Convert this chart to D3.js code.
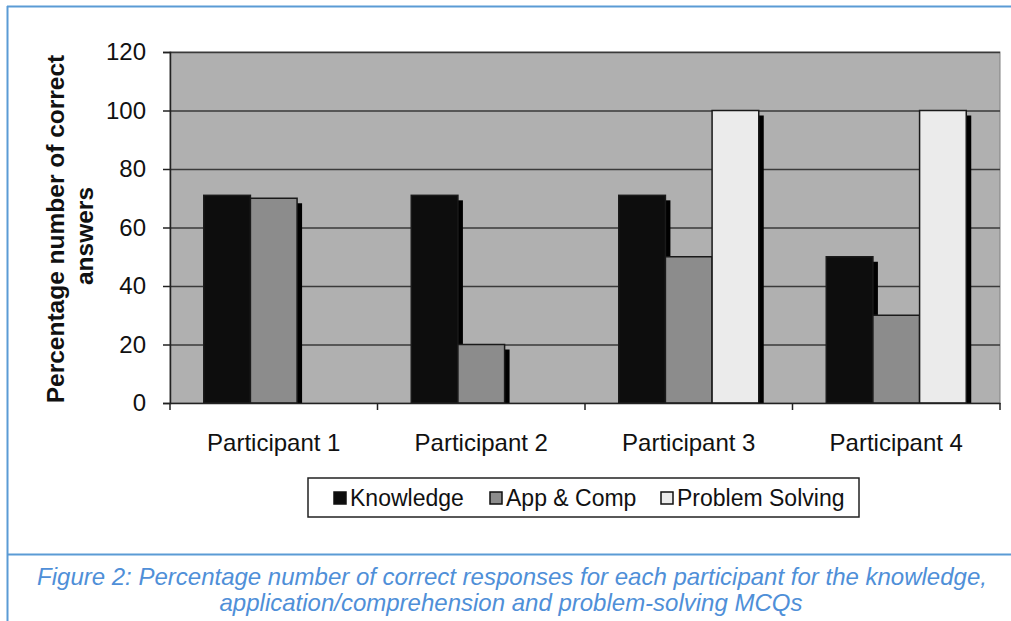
<!DOCTYPE html>
<html>
<head>
<meta charset="utf-8">
<script src="https://cdn.jsdelivr.net/npm/d3@7"></script>
<style>
body { margin: 0; background: #fff; }
svg { display: block; font-family: Arial, "Liberation Sans", sans-serif; }
</style>
</head>
<body>
<svg width="1011" height="621"></svg>
<script>
// chart data
var participants = ["Participant 1", "Participant 2", "Participant 3", "Participant 4"];
var seriesNames = ["Knowledge", "App & Comp", "Problem Solving"];
var knowledge = [71, 71, 71, 50];
var appComp = [70, 20, 50, 30];
var problemSolving = [0, 0, 100, 100];
var yTicks = [0, 20, 40, 60, 80, 100, 120];

var SHADOW = 5;
var fills = ["#0d0d0d", "#8c8c8c", "#ebebeb"];

var svg = d3.select("svg");
var marge = {top: 52, left: 170, right: 1000, bottom: 403};

// blue frame of the figure
svg.append("line").attr("x1", 7).attr("y1", 6.5).attr("x2", 1011).attr("y2", 6.5)
    .attr("stroke", "#5b9bd5").attr("stroke-width", 2);
svg.append("line").attr("x1", 7.5).attr("y1", 6).attr("x2", 7.5).attr("y2", 621)
    .attr("stroke", "#5b9bd5").attr("stroke-width", 2);
svg.append("line").attr("x1", 7).attr("y1", 554.5).attr("x2", 1011).attr("y2", 554.5)
    .attr("stroke", "#5b9bd5").attr("stroke-width", 2);

var x = d3.scaleBand().domain(participants).range([marge.left, marge.right]);
var x1 = d3.scaleBand().domain(d3.range(3)).range([0, 140]);
var y = d3.scaleLinear().domain([0, 120]).range([marge.bottom, marge.top]);

// plot area
svg.append("rect")
    .attr("x", marge.left).attr("y", marge.top)
    .attr("width", marge.right - marge.left).attr("height", marge.bottom - marge.top)
    .attr("fill", "#b0b0b0").attr("stroke", "#808080").attr("stroke-width", 1);

// gridlines
svg.append("g").selectAll("line")
    .data(yTicks.filter(function(d){ return d > 0; }))
    .enter().append("line")
    .attr("x1", marge.left).attr("x2", marge.right)
    .attr("y1", function(d){ return y(d) + 0.5; })
    .attr("y2", function(d){ return y(d) + 0.5; })
    .attr("stroke", "#3a3a3a").attr("stroke-width", 1.5);

// bars
var rows = participants.map(function(p, i){
    return {name: p, values: [knowledge[i], appComp[i], problemSolving[i]]};
});
var groups = svg.append("g").selectAll("g")
    .data(rows).enter().append("g")
    .attr("transform", function(d){
        return "translate(" + (x(d.name) + (x.bandwidth() - 140) / 2) + ",0)";
    });

groups.selectAll(".shadow")
    .data(function(d){ return d.values; })
    .enter().append("rect")
    .attr("class", "shadow")
    .filter(function(d){ return d > 0; })
    .attr("x", function(d, i){ return x1(i) + SHADOW; })
    .attr("y", function(d){ return y(d) + SHADOW; })
    .attr("width", x1.bandwidth())
    .attr("height", function(d){ return y(0) - y(d) - SHADOW; })
    .attr("fill", "#000");

groups.selectAll(".bar")
    .data(function(d){ return d.values; })
    .enter().append("rect")
    .attr("class", "bar")
    .filter(function(d){ return d > 0; })
    .attr("x", function(d, i){ return x1(i); })
    .attr("y", function(d){ return y(d); })
    .attr("width", x1.bandwidth())
    .attr("height", function(d){ return y(0) - y(d); })
    .attr("fill", function(d, i){ return fills[i]; })
    .attr("stroke", "#1a1a1a").attr("stroke-width", 1.5);

// y axis
var yAxis = svg.append("g")
    .attr("transform", "translate(" + marge.left + ",0)")
    .call(d3.axisLeft(y).tickValues(yTicks).tickSize(7).tickPadding(17));
yAxis.selectAll("text").attr("font-size", 24).attr("fill", "#111")
    .attr("font-family", "Arial, 'Liberation Sans', sans-serif");
yAxis.selectAll("line,path").attr("stroke", "#222").attr("stroke-width", 1.5);

// x axis
var xAxis = svg.append("g")
    .attr("transform", "translate(0," + marge.bottom + ")")
    .call(d3.axisBottom(x).tickSize(0).tickPadding(31));
xAxis.select(".domain").attr("stroke", "#222").attr("stroke-width", 1.5);
xAxis.selectAll("text").attr("font-size", 24).attr("fill", "#111")
    .attr("font-family", "Arial, 'Liberation Sans', sans-serif");
// category separators
svg.append("g").selectAll("line")
    .data(participants.concat(["end"]))
    .enter().append("line")
    .attr("x1", function(d, i){ return marge.left + i * x.step(); })
    .attr("x2", function(d, i){ return marge.left + i * x.step(); })
    .attr("y1", marge.bottom).attr("y2", marge.bottom + 7)
    .attr("stroke", "#222").attr("stroke-width", 1.5);

// y title
svg.append("text")
    .attr("transform", "translate(64,229) rotate(-90)")
    .attr("text-anchor", "middle")
    .attr("font-size", 24.5).attr("font-weight", "bold").attr("fill", "#111")
    .text("Percentage number of correct");
svg.append("text")
    .attr("transform", "translate(93,236) rotate(-90)")
    .attr("text-anchor", "middle")
    .attr("font-size", 24.5).attr("font-weight", "bold").attr("fill", "#111")
    .text("answers");

// legend
var legend = svg.append("g").attr("transform", "translate(308,478)");
legend.append("rect").attr("width", 551).attr("height", 39)
    .attr("fill", "#fff").attr("stroke", "#222").attr("stroke-width", 1.5);
var legendX = [26, 182, 353];
var items = legend.selectAll(".item").data(seriesNames).enter().append("g")
    .attr("transform", function(d, i){ return "translate(" + legendX[i] + ",0)"; });
items.append("rect").attr("x", 0).attr("y", 14).attr("width", 12).attr("height", 12)
    .attr("fill", function(d, i){ return fills[i]; })
    .attr("stroke", "#111").attr("stroke-width", 1.5);
items.append("text").attr("x", 16).attr("y", 28)
    .attr("font-size", 23).attr("fill", "#111")
    .text(function(d){ return d; });

// caption
var cap = svg.append("text")
    .attr("text-anchor", "middle")
    .attr("font-size", 24).attr("font-style", "italic").attr("fill", "#4f8fd8");
cap.append("tspan").attr("x", 512).attr("y", 585)
    .text("Figure 2: Percentage number of correct responses for each participant for the knowledge,");
cap.append("tspan").attr("x", 511).attr("y", 611)
    .text("application/comprehension and problem-solving MCQs");
</script>
</body>
</html>
